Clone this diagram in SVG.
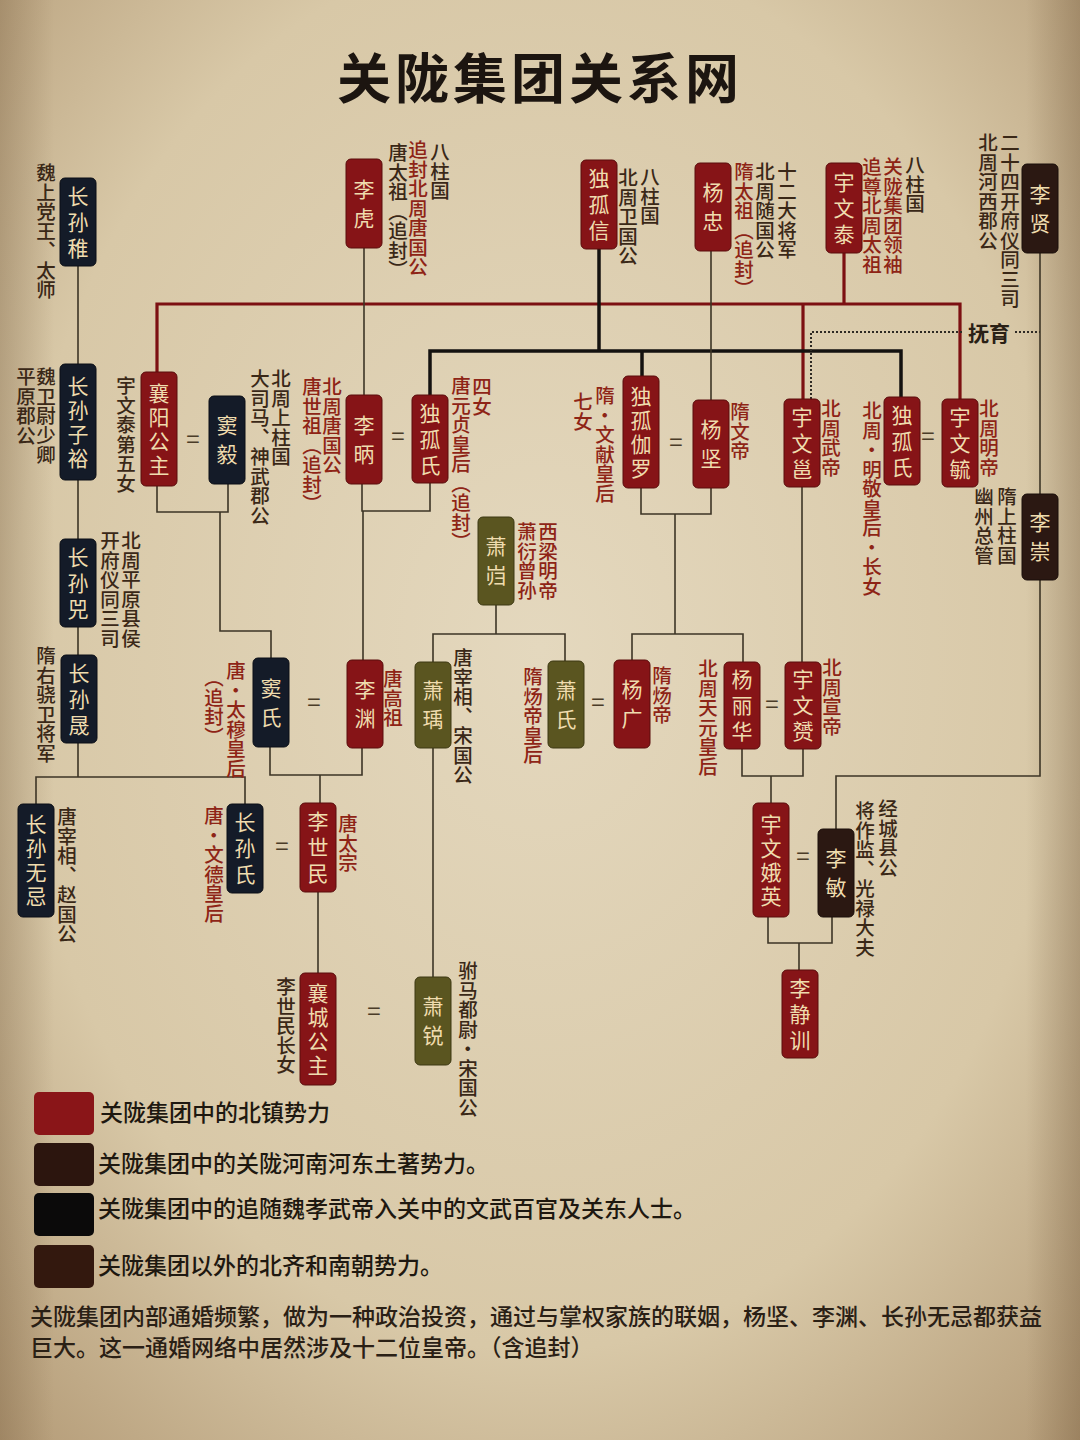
<svg xmlns="http://www.w3.org/2000/svg" width="1080" height="1440" viewBox="0 0 1080 1440">
<defs>
<radialGradient id="bg" cx="50%" cy="45%" r="75%">
<stop offset="0" stop-color="#e4d8be"/>
<stop offset="0.65" stop-color="#d8c8a7"/>
<stop offset="1" stop-color="#b39a76"/>
</radialGradient>
<linearGradient id="edge" x1="0" y1="0" x2="1" y2="0">
<stop offset="0" stop-color="#6e5436" stop-opacity="0.3"/>
<stop offset="0.05" stop-color="#6e5436" stop-opacity="0"/>
<stop offset="0.95" stop-color="#6e5436" stop-opacity="0"/>
<stop offset="1" stop-color="#6e5436" stop-opacity="0.35"/>
</linearGradient>
</defs>
<style>
.n{font-family:"Noto Sans CJK SC",sans-serif;font-size:21px;fill:#efdcae;writing-mode:vertical-rl;text-anchor:middle}
.l{font-family:"Noto Sans CJK SC",sans-serif;font-size:19.5px;font-weight:500;writing-mode:vertical-rl}
.d{fill:#3a2817}
.r{fill:#8e2416}
.eq{font-family:"Noto Sans CJK SC",sans-serif;font-size:24px;fill:#4a3c28;text-anchor:middle}
.red{stroke:#7c1012;stroke-width:3.2;fill:none}
.blk{stroke:#141210;stroke-width:3.5;fill:none}
.thin{stroke:#3d3526;stroke-width:1.6;fill:none}
.dot{stroke:#2e2a24;stroke-width:2;stroke-dasharray:2 2;fill:none}
.bR{fill:#861417;stroke:#5a0c0c;stroke-width:1}
.bN{fill:#141b28;stroke:#0a0e16;stroke-width:1}
.bB{fill:#2b1812;stroke:#1a0e0a;stroke-width:1}
.bO{fill:#5a5520;stroke:#3c3812;stroke-width:1}
.leg{font-family:"Noto Sans CJK SC",sans-serif;font-size:23px;font-weight:500;fill:#1e1810}
.par{font-family:"Noto Sans CJK SC",sans-serif;font-size:23px;font-weight:500;fill:#2a2015}
</style>
<rect x="0" y="0" width="1080" height="1440" fill="url(#bg)"/>
<rect x="0" y="0" width="1080" height="1440" fill="url(#edge)"/>
<text x="540" y="99" text-anchor="middle" font-family="'Noto Sans CJK SC',sans-serif" font-size="54" font-weight="bold" letter-spacing="4" fill="#1c1510">关陇集团关系网</text>

<g id="connectors">
<path class="red" d="M157,372 V304 H960 V399"/>
<path class="red" d="M844,253 V304"/>
<path class="red" d="M803,304 V399"/>
<path class="blk" d="M599,249 V351"/>
<path class="blk" d="M430,395 V351 H901 V397"/>
<path class="blk" d="M642,351 V376"/>
<path class="dot" d="M811,399 V332 H962"/>
<path class="dot" d="M1015,332 H1040"/>
<path class="thin" d="M364,248 V395"/>
<path class="thin" d="M711,251 V400"/>
<path class="thin" d="M1040,253 V494"/>
<path class="thin" d="M78,266 V364 M78,480 V539 M78,627 V655 M78,743 V777"/>
<path class="thin" d="M36,804 V777 H245 V804"/>
<path class="thin" d="M157,486 V512 H228 V484"/>
<path class="thin" d="M220,512 V631 H271 V658"/>
<path class="thin" d="M362,484 V511 H430 V483"/>
<path class="thin" d="M363,511 V660"/>
<path class="thin" d="M641,488 V514 H711 V488"/>
<path class="thin" d="M675,514 V634"/>
<path class="thin" d="M632,660 V634 H743 V662"/>
<path class="thin" d="M802,487 V662"/>
<path class="thin" d="M496,605 V634"/>
<path class="thin" d="M433,662 V634 H565 V661"/>
<path class="thin" d="M742,749 V776 H803 V749"/>
<path class="thin" d="M771,776 V803"/>
<path class="thin" d="M1040,580 V776 H836 V829"/>
<path class="thin" d="M768,917 V943 H832 V917"/>
<path class="thin" d="M799,943 V970"/>
<path class="thin" d="M270,747 V775 H362 V748"/>
<path class="thin" d="M320,775 V803"/>
<path class="thin" d="M318,892 V973"/>
<path class="thin" d="M433,748 V977"/>
<text x="968" y="341" font-family="'Noto Sans CJK SC',sans-serif" font-size="21" font-weight="bold" fill="#2a2015">抚育</text>
<text class="eq" x="193" y="448">=</text>
<text class="eq" x="398" y="445">=</text>
<text class="eq" x="676" y="451">=</text>
<text class="eq" x="928" y="445">=</text>
<text class="eq" x="314" y="711">=</text>
<text class="eq" x="598" y="711">=</text>
<text class="eq" x="772" y="713">=</text>
<text class="eq" x="282" y="855">=</text>
<text class="eq" x="803" y="865">=</text>
<text class="eq" x="374" y="1020">=</text>
</g>

<g id="n-changsunzhi"><rect class="bN" x="60" y="178" width="36" height="88" rx="5"/><text class="n" x="78" y="224.5" letter-spacing="5">长孙稚</text><text class="l d" x="46" y="163">魏上党王、太师</text></g>
<g id="n-lihu"><rect class="bR" x="346" y="159" width="36" height="89" rx="5"/><text class="n" x="364" y="207.5" letter-spacing="8">李虎</text><text class="l d" x="440" y="142">八柱国</text><text class="l r" x="418" y="140">追封北周唐国公</text><text class="l d" x="398" y="143">唐太祖（追封）</text></g>
<g id="n-dugouxin"><rect class="bR" x="581" y="160" width="36" height="89" rx="5"/><text class="n" x="599" y="207" letter-spacing="5">独孤信</text><text class="l d" x="650" y="167">八柱国</text><text class="l d" x="628" y="168">北周卫国公</text></g>
<g id="n-yangzhong"><rect class="bR" x="695" y="163" width="36" height="88" rx="5"/><text class="n" x="713" y="211" letter-spacing="8">杨忠</text><text class="l d" x="787" y="162">十二大将军</text><text class="l d" x="765" y="162">北周随国公</text><text class="l r" x="744" y="162">隋太祖（追封）</text></g>
<g id="n-yuwentai"><rect class="bR" x="826" y="163" width="36" height="90" rx="5"/><text class="n" x="844" y="210.5" letter-spacing="5">宇文泰</text><text class="l d" x="915" y="155">八柱国</text><text class="l r" x="893" y="157">关陇集团领袖</text><text class="l r" x="872" y="157">追尊北周太祖</text></g>
<g id="n-lixian"><rect class="bB" x="1022" y="164" width="36" height="89" rx="5"/><text class="n" x="1040" y="212.5" letter-spacing="8">李贤</text><text class="l d" x="1010" y="133">二十四开府仪同三司</text><text class="l d" x="988" y="133">北周河西郡公</text></g>

<g id="n-changsunziyu"><rect class="bN" x="60" y="364" width="36" height="116" rx="5"/><text class="n" x="78" y="423.5" letter-spacing="3">长孙子裕</text><text class="l d" x="46" y="367">魏卫尉少卿</text><text class="l d" x="26" y="367">平原郡公</text></g>
<g id="n-xiangyang"><rect class="bR" x="141" y="372" width="36" height="114" rx="5"/><text class="n" x="159" y="430.5" letter-spacing="3">襄阳公主</text><text class="l d" x="126" y="376">宇文泰第五女</text></g>
<g id="n-douyi"><rect class="bN" x="209" y="396" width="36" height="88" rx="5"/><text class="n" x="227" y="444" letter-spacing="8">窦毅</text><text class="l d" x="281" y="369">北周上柱国</text><text class="l d" x="260" y="369">大司马、神武郡公</text></g>
<g id="n-libing"><rect class="bR" x="346" y="395" width="36" height="89" rx="5"/><text class="n" x="364" y="443.5" letter-spacing="8">李昞</text><text class="l r" x="332" y="377">北周唐国公</text><text class="l r" x="312" y="377">唐世祖（追封）</text></g>
<g id="n-dugoushi1"><rect class="bR" x="412" y="395" width="36" height="88" rx="5"/><text class="n" x="430" y="441.5" letter-spacing="5">独孤氏</text><text class="l r" x="482" y="377">四女</text><text class="l r" x="461" y="376">唐元贞皇后（追封）</text></g>
<g id="n-dugoujialuo"><rect class="bR" x="623" y="376" width="36" height="112" rx="5"/><text class="n" x="641" y="433.5" letter-spacing="3">独孤伽罗</text><text class="l r" x="605" y="386">隋·文献皇后</text><text class="l r" x="583" y="392">七女</text></g>
<g id="n-yangjian"><rect class="bR" x="693" y="400" width="36" height="88" rx="5"/><text class="n" x="711" y="448" letter-spacing="8">杨坚</text><text class="l r" x="740" y="402">隋文帝</text></g>
<g id="n-yuwenyong"><rect class="bR" x="784" y="399" width="36" height="88" rx="5"/><text class="n" x="802" y="445.5" letter-spacing="5">宇文邕</text><text class="l r" x="831" y="399">北周武帝</text></g>
<g id="n-dugoushi2"><rect class="bR" x="884" y="397" width="36" height="88" rx="5"/><text class="n" x="902" y="443.5" letter-spacing="5">独孤氏</text><text class="l r" x="872" y="401">北周·明敬皇后·长女</text></g>
<g id="n-yuwenyu"><rect class="bR" x="942" y="399" width="36" height="88" rx="5"/><text class="n" x="960" y="445.5" letter-spacing="5">宇文毓</text><text class="l r" x="989" y="399">北周明帝</text></g>
<g id="n-lichong"><rect class="bB" x="1022" y="494" width="36" height="86" rx="5"/><text class="n" x="1040" y="541" letter-spacing="8">李崇</text><text class="l d" x="1007" y="487">隋上柱国</text><text class="l d" x="984" y="487">幽州总管</text></g>
<g id="n-xiaokui"><rect class="bO" x="478" y="517" width="36" height="88" rx="5"/><text class="n" x="496" y="565" letter-spacing="8">萧岿</text><text class="l r" x="548" y="522">西梁明帝</text><text class="l r" x="527" y="522">萧衍曾孙</text></g>

<g id="n-changsunsi"><rect class="bN" x="60" y="539" width="36" height="88" rx="5"/><text class="n" x="78" y="585.5" letter-spacing="5">长孙兕</text><text class="l d" x="131" y="531">北周平原县侯</text><text class="l d" x="110" y="531">开府仪同三司</text></g>
<g id="n-changsunsheng"><rect class="bN" x="61" y="655" width="36" height="88" rx="5"/><text class="n" x="79" y="701.5" letter-spacing="5">长孙晟</text><text class="l d" x="46" y="646">隋右骁卫将军</text></g>
<g id="n-doushi"><rect class="bN" x="253" y="658" width="36" height="89" rx="5"/><text class="n" x="271" y="706.5" letter-spacing="8">窦氏</text><text class="l r" x="236" y="661">唐·太穆皇后</text><text class="l r" x="214" y="668">（追封）</text></g>
<g id="n-liyuan"><rect class="bR" x="347" y="660" width="36" height="88" rx="5"/><text class="n" x="365" y="708" letter-spacing="8">李渊</text><text class="l r" x="393" y="669">唐高祖</text></g>
<g id="n-xiaoyu"><rect class="bO" x="415" y="662" width="36" height="86" rx="5"/><text class="n" x="433" y="709" letter-spacing="8">萧瑀</text><text class="l d" x="463" y="648">唐宰相、宋国公</text></g>
<g id="n-xiaoshi"><rect class="bO" x="548" y="661" width="36" height="87" rx="5"/><text class="n" x="566" y="708.5" letter-spacing="8">萧氏</text><text class="l r" x="533" y="667">隋炀帝皇后</text></g>
<g id="n-yangguang"><rect class="bR" x="614" y="660" width="36" height="88" rx="5"/><text class="n" x="632" y="708" letter-spacing="8">杨广</text><text class="l r" x="662" y="666">隋炀帝</text></g>
<g id="n-yanglihua"><rect class="bR" x="724" y="662" width="36" height="87" rx="5"/><text class="n" x="742" y="708" letter-spacing="5">杨丽华</text><text class="l r" x="708" y="659">北周天元皇后</text></g>
<g id="n-yuwenyun"><rect class="bR" x="785" y="662" width="36" height="87" rx="5"/><text class="n" x="803" y="708" letter-spacing="5">宇文赟</text><text class="l r" x="832" y="658">北周宣帝</text></g>

<g id="n-changsunwuji"><rect class="bN" x="18" y="804" width="36" height="113" rx="5"/><text class="n" x="36" y="862" letter-spacing="3">长孙无忌</text><text class="l d" x="67" y="807">唐宰相、赵国公</text></g>
<g id="n-changsunshi"><rect class="bN" x="227" y="804" width="36" height="89" rx="5"/><text class="n" x="245" y="851" letter-spacing="5">长孙氏</text><text class="l r" x="214" y="806">唐·文德皇后</text></g>
<g id="n-lishimin"><rect class="bR" x="300" y="803" width="36" height="89" rx="5"/><text class="n" x="318" y="850" letter-spacing="5">李世民</text><text class="l r" x="348" y="814">唐太宗</text></g>
<g id="n-yuwenerying"><rect class="bR" x="753" y="803" width="36" height="114" rx="5"/><text class="n" x="771" y="861.5" letter-spacing="3">宇文娥英</text></g>
<g id="n-limin"><rect class="bB" x="818" y="829" width="36" height="88" rx="5"/><text class="n" x="836" y="877" letter-spacing="8">李敏</text><text class="l d" x="888" y="799">经城县公</text><text class="l d" x="865" y="801">将作监、光禄大夫</text></g>
<g id="n-lijingxun"><rect class="bR" x="782" y="970" width="36" height="88" rx="5"/><text class="n" x="800" y="1016.5" letter-spacing="5">李静训</text></g>
<g id="n-xiangcheng"><rect class="bR" x="300" y="973" width="36" height="112" rx="5"/><text class="n" x="318" y="1030.5" letter-spacing="3">襄城公主</text><text class="l d" x="286" y="977">李世民长女</text></g>
<g id="n-xiaorui"><rect class="bO" x="415" y="977" width="36" height="88" rx="5"/><text class="n" x="433" y="1025" letter-spacing="8">萧锐</text><text class="l d" x="468" y="961">驸马都尉·宋国公</text></g>

<g id="legend">
<rect x="34" y="1092" width="60" height="43" rx="5" fill="#8a1518"/>
<text class="leg" x="100" y="1121">关陇集团中的北镇势力</text>
<rect x="34" y="1143" width="60" height="43" rx="5" fill="#2c150e"/>
<text class="leg" x="98" y="1172">关陇集团中的关陇河南河东土著势力。</text>
<rect x="34" y="1193" width="60" height="43" rx="5" fill="#0b0a0a"/>
<text class="leg" x="98" y="1217">关陇集团中的追随魏孝武帝入关中的文武百官及关东人士。</text>
<rect x="34" y="1245" width="60" height="43" rx="5" fill="#33180e"/>
<text class="leg" x="98" y="1274">关陇集团以外的北齐和南朝势力。</text>
<text class="par" x="30" y="1325">关陇集团内部通婚频繁，做为一种政治投资，通过与掌权家族的联姻，杨坚、李渊、长孙无忌都获益</text>
<text class="par" x="30" y="1356">巨大。这一通婚网络中居然涉及十二位皇帝。（含追封）</text>
</g>
</svg>
